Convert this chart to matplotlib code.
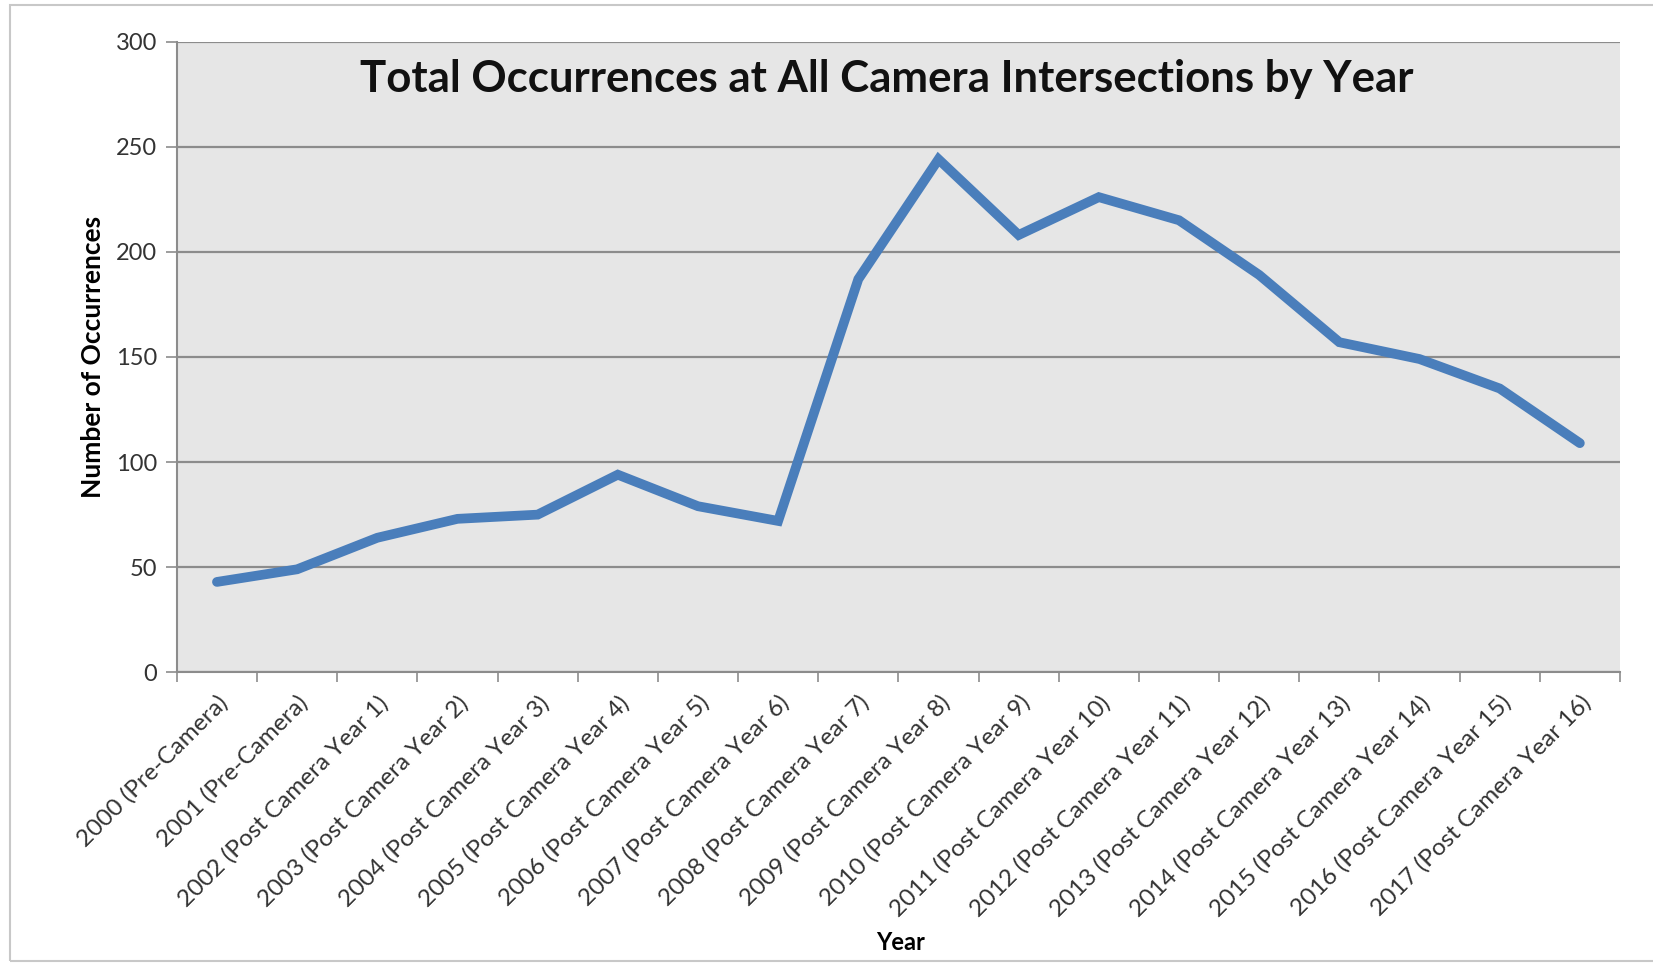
import matplotlib.pyplot as plt
import numpy as np
from matplotlib.patches import Rectangle

# data
years = ["2000 (Pre-Camera)", "2001 (Pre-Camera)"] + [
    f"{2002 + i} (Post Camera Year {i + 1})" for i in range(16)
]
occurrences = [43, 49, 64, 73, 75, 94, 79, 72, 187, 244,
               208, 226, 215, 189, 157, 149, 135, 109]
y_ticks = [0, 50, 100, 150, 200, 250, 300]

plt.rcParams['font.family'] = ['Lato', 'DejaVu Sans']

fig = plt.figure(figsize=(16.53, 9.66), dpi=100)
ax = fig.add_axes([0.107, 0.304, 0.873, 0.653])

x = np.arange(len(years))
ax.plot(x, occurrences, color='#4a7ebb', lw=7, solid_capstyle='round',
        solid_joinstyle='miter', zorder=3)

ax.set_facecolor('#e6e6e6')
ax.set_xlim(-0.5, len(years) - 0.5)
ax.set_ylim(0, 300)
ax.set_yticks(y_ticks)
ax.grid(axis='y', color='#8c8c8c', lw=1.6, zorder=1)
ax.set_axisbelow(True)

# categories centred, tick marks on the boundaries (Excel style)
ax.set_xticks(x)
ax.set_xticklabels(years, rotation=45, ha='right', rotation_mode='anchor',
                   fontsize=17.5, color='#333333')
ax.set_xticks(np.arange(-0.5, len(years)), minor=True)
ax.tick_params(axis='x', which='major', length=0, pad=14)
ax.tick_params(axis='x', which='minor', length=7, color='#8c8c8c', width=1.2)
ax.tick_params(axis='y', length=8, color='#8c8c8c', width=1.2,
               labelsize=17, labelcolor='#333333', pad=6)

for side in ['top', 'right']:
    ax.spines[side].set_visible(False)
for side in ['left', 'bottom']:
    ax.spines[side].set_color('#8c8c8c')
    ax.spines[side].set_linewidth(1.5)

ax.set_ylabel('Number of Occurrences', fontsize=19, fontweight='bold')
ax.yaxis.set_label_coords(-0.050, 0.5)
fig.text(0.545, 0.012, 'Year', fontsize=17, fontweight='bold', ha='center', va='bottom')

ax.text(0.492, 0.941, 'Total Occurrences at All Camera Intersections by Year',
        transform=ax.transAxes, ha='center', va='center',
        fontsize=31.5, fontweight='bold', color='#111111')

# light frame around the whole chart
fig.patches.append(Rectangle((0.006, 0.005), 1.2, 0.99, transform=fig.transFigure,
                             fill=False, edgecolor='#c8c8c8', lw=1.5))

fig.savefig('out.png', dpi=100)
